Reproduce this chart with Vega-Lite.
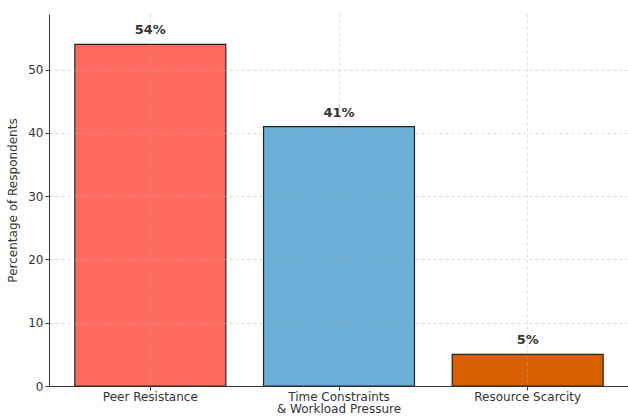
{
  "$schema": "https://vega.github.io/schema/vega-lite/v6.json",
  "width": 580,
  "height": 372,
  "padding": {"left": 6, "top": 14, "right": 0, "bottom": 0},
  "autosize": {"type": "pad"},
  "background": "white",
  "config": {
    "view": {"stroke": null},
    "font": "DejaVu Sans"
  },
  "data": {
    "values": [
      {"challenge": "Peer Resistance", "value": 54, "pct": "54%"},
      {"challenge": "Time Constraints\n& Workload Pressure", "value": 41, "pct": "41%"},
      {"challenge": "Resource Scarcity", "value": 5, "pct": "5%"}
    ]
  },
  "encoding": {
    "x": {
      "field": "challenge",
      "type": "nominal",
      "sort": null,
      "scale": {"paddingInner": 0.2, "paddingOuter": 0.137},
      "axis": {
        "title": null,
        "labelAngle": 0,
        "labelExpr": "split(datum.label, '\\n')",
        "labelFontSize": 12,
        "labelColor": "#333333",
        "labelLineHeight": 12.5,
        "labelPadding": 1,
        "domain": true,
        "domainColor": "#333333",
        "tickColor": "#333333",
        "tickSize": 4,
        "grid": true,
        "bandPosition": 0.5,
        "gridColor": "#b0b0b0",
        "gridOpacity": 0.45,
        "gridDash": [3, 3],
        "zindex": 1
      }
    },
    "y": {
      "field": "value",
      "type": "quantitative",
      "scale": {"domain": [0, 58.8], "nice": false},
      "axis": {
        "title": "Percentage of Respondents",
        "titleFontSize": 12,
        "titleFontWeight": "normal",
        "titleColor": "#333333",
        "titlePadding": 8,
        "values": [0, 10, 20, 30, 40, 50],
        "labelFontSize": 12,
        "labelColor": "#333333",
        "domainColor": "#333333",
        "tickColor": "#333333",
        "tickSize": 4,
        "grid": true,
        "gridColor": "#b0b0b0",
        "gridOpacity": 0.45,
        "gridDash": [3, 3],
        "zindex": 1
      }
    }
  },
  "layer": [
    {
      "mark": {"type": "bar", "stroke": "#222222", "strokeWidth": 1.2},
      "encoding": {
        "color": {
          "field": "challenge",
          "type": "nominal",
          "sort": null,
          "scale": {"range": ["#FF6B5E", "#6BAED6", "#D95F02"]},
          "legend": null
        }
      }
    },
    {
      "mark": {"type": "text", "baseline": "bottom", "dy": -7, "fontSize": 13, "fontWeight": "bold", "color": "#333333"},
      "encoding": {
        "text": {"field": "pct"}
      }
    }
  ]
}
